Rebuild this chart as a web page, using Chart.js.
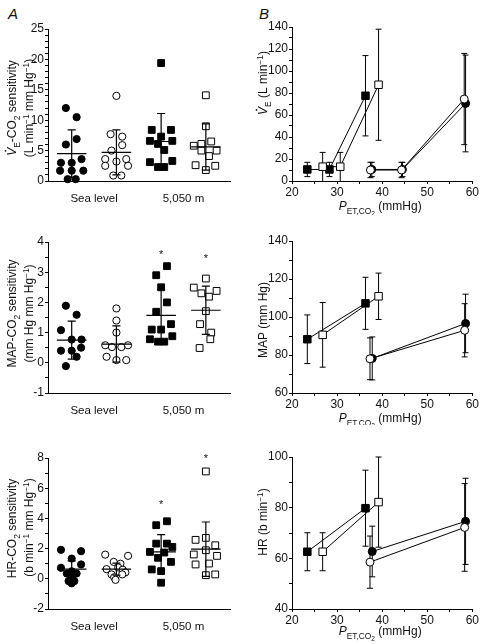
<!DOCTYPE html>
<html lang="en">
<head>
  <meta charset="UTF-8" />
  <title>CO2 sensitivity at sea level and 5,050 m</title>
  <script src="https://cdn.jsdelivr.net/npm/chart.js"></script>
  <style>
    body { margin: 0; background: #fff; overflow: hidden; }
    #fig { position: relative; width: 480px; height: 644px; }
    #fig canvas { position: absolute; }
    .tag { position: absolute; font: italic 15px "Liberation Sans", Arial, sans-serif; line-height: 15px; color: #111; }
  </style>
</head>
<body>
  <div id="fig">
    <div class="tag" style="left:8px;top:6px">A</div>
    <div class="tag" style="left:259px;top:6px">B</div>
    <canvas id="a1"></canvas>
    <canvas id="a2"></canvas>
    <canvas id="a3"></canvas>
    <canvas id="b1"></canvas>
    <canvas id="b2"></canvas>
    <canvas id="b3"></canvas>
  </div>

  <script>
    // ---- A: individual sensitivities. groups: SL filled circles, SL open circles, 5,050 m filled squares, 5,050 m open squares
    const groupLabels = ['Sea level', '5,050 m'];
    const groupCentres = [1.5, 3.5];

    const veSensY = [
      [12.0, 10.5, 6.9, 6.0, 3.0, 3.0, 3.6, 1.7, 1.7, 1.7, 0.3, 0.3],
      [14.0, 7.7, 7.3, 5.9, 5.0, 3.6, 3.2, 3.6, 2.5, 2.5, 0.9, 0.9],
      [19.4, 8.4, 8.4, 7.3, 6.6, 6.6, 6.1, 5.1, 3.1, 3.3, 2.3, 2.3],
      [14.1, 9.0, 5.8, 6.1, 6.5, 5.0, 5.0, 4.1, 2.6, 2.5, 1.8]
    ];
    const veSensJitter = [
      [-0.13, 0.11, 0.11, -0.13, -0.24, 0, 0.22, -0.26, 0, 0.26, -0.09, 0.09],
      [0, -0.13, 0.13, 0.13, -0.11, -0.25, 0, 0.22, -0.25, 0.26, -0.07, 0.11],
      [0, -0.21, 0.22, 0, -0.25, 0.25, -0.07, 0.07, -0.25, 0.25, -0.07, 0.07],
      [0, 0, -0.27, -0.1, 0.12, -0.1, 0.24, 0.07, -0.23, 0.21, 0]
    ];
    const veSensMean = [4.5, 4.7, 6.5, 5.6];
    const veSensSD = [3.9, 3.7, 4.6, 3.8];
    const veSensStars = [null, null, null, null];

    const mapSensY = [
      [1.89, 1.59, 1.08, 0.77, 0.77, 0.40, 0.40, 0.50, 0.20, -0.11],
      [1.8, 1.4, 1.0, 0.58, 0.52, 0.52, 0.58, 0.2, 0.09, 0.09],
      [3.2, 2.9, 2.5, 2.0, 1.69, 1.1, 1.1, 1.28, 0.78, 0.7, 0.7, 0.88],
      [2.79, 2.49, 2.38, 2.3, 2.19, 1.71, 1.28, 1.0, 0.78, 0.49]
    ];
    const mapSensJitter = [
      [-0.13, 0.11, -0.24, 0, 0.22, -0.24, 0, 0.21, 0.11, -0.13],
      [0, 0, 0, -0.25, -0.1, 0.11, 0.26, -0.22, 0, 0.22],
      [0.13, -0.11, 0, 0.13, -0.11, -0.21, 0, 0.22, -0.25, -0.07, 0.07, 0.25],
      [0, -0.27, 0.24, -0.1, 0.07, 0, -0.13, 0.12, 0.1, -0.14]
    ];
    const mapSensMean = [0.75, 0.62, 1.57, 1.74];
    const mapSensSD = [0.63, 0.6, 0.85, 0.8];
    const mapSensStars = [null, null, 3.65, 3.5];

    const hrSensY = [
      [1.92, 1.83, 1.34, 0.73, 0.95, 0.5, 0.35, 0.35, 0.1, -0.15, -0.15, -0.3],
      [1.6, 1.52, 1.12, 1.0, 0.64, 0.75, 0.6, 0.42, 0.29, 0.29, 0.1, -0.07],
      [3.81, 3.55, 2.33, 2.33, 2.11, 1.78, 1.74, 1.39, 1.12, 0.62, 0.51, -0.26],
      [7.11, 2.71, 2.58, 2.22, 1.89, 1.61, 1.52, 0.95, 1.01, 0.24, 0.29]
    ];
    const hrSensJitter = [
      [-0.24, 0.21, 0, -0.24, 0.21, 0, -0.11, 0.11, 0, -0.07, 0.06, 0],
      [-0.25, 0.26, -0.06, 0.09, -0.22, 0.04, 0.14, 0.2, -0.11, 0.13, -0.05, -0.02],
      [0.13, -0.11, -0.11, 0.13, 0.25, -0.25, 0.07, -0.07, 0.22, -0.21, 0, 0],
      [0, 0, -0.23, 0.21, 0, -0.27, 0.25, -0.23, 0.07, 0, 0.21]
    ];
    const hrSensMean = [0.64, 0.64, 1.78, 1.96];
    const hrSensSD = [0.55, 0.4, 1.15, 1.8];
    const hrSensStars = [null, null, 5.0, 8.05];

    // ---- B: responses vs PETCO2. series: filled squares, open squares, filled circles, open circles
    const veX = [[23.4, 28.3, 36.3], [26.8, 30.7, 39.2], [37.7, 44.5, 58.5], [37.4, 44.3, 58.2]];
    const veY = [[10.5, 10.5, 77.5], [13, 13, 87.5], [10.5, 10.5, 70.5], [10, 10, 74.5]];
    const veErr = [[6.5, 6.5, 36.5], [13, 13, 50.5], [6.5, 6.5, 44], [7, 7, 41.5]];

    const mapX = [[23.4, 36.3], [26.8, 39.2], [37.8, 58.5], [37.3, 58.3]];
    const mapY = [[88.3, 107.2], [90.6, 110.9], [78.2, 96.6], [78.0, 93.0]];
    const mapErr = [[12.8, 13.7], [17, 12.2], [11.3, 15.4], [11, 14]];

    const hrX = [[23.4, 36.3], [26.8, 39.2], [37.8, 58.5], [37.3, 58.3]];
    const hrY = [[62.6, 79.8], [62.6, 82.2], [62.7, 74.6], [58.5, 72.2]];
    const hrErr = [[7.5, 15], [7.5, 17.8], [10, 17], [10.3, 17.3]];

    const FONT = '"Liberation Sans", Arial, sans-serif';
    const INK = '#111';

    // canvas box and plot-area edges, page pixels
    const boxes = {
      a1: { left: 0, top: 0, w: 240, h: 215, l: 48, t: 29, r: 230, b: 181 },
      a2: { left: 0, top: 215, w: 240, h: 210, l: 48, t: 242, r: 230, b: 393 },
      a3: { left: 0, top: 425, w: 240, h: 219, l: 48, t: 458, r: 230, b: 609 },
      b1: { left: 240, top: 0, w: 240, h: 215, l: 292, t: 27, r: 473, b: 181 },
      b2: { left: 240, top: 215, w: 240, h: 210, l: 292, t: 241, r: 473, b: 393 },
      b3: { left: 240, top: 425, w: 240, h: 219, l: 292, t: 457, r: 473, b: 609 }
    };

    function partFont(kind, size) {
      let sz = size;
      if (kind === 'sub' || kind === 'sup') sz = size * 0.7;
      if (kind === 'sub2') sz = size * 0.55;
      const it = (kind === 'i' || kind === 'dotV') ? 'italic ' : '';
      return it + sz + 'px ' + FONT;
    }

    // text with sub/superscripts, centred on (cx, cy)
    function drawRich(ctx, parts, cx, cy, size, rotated) {
      ctx.save();
      ctx.translate(cx, cy);
      if (rotated) ctx.rotate(-Math.PI / 2);
      ctx.textAlign = 'left';
      ctx.textBaseline = 'alphabetic';
      ctx.fillStyle = INK;
      let w = 0;
      parts.forEach(p => { ctx.font = partFont(p[1], size); w += ctx.measureText(p[0]).width; });
      let x = -w / 2;
      const base = size * 0.36;
      parts.forEach(p => {
        const kind = p[1];
        ctx.font = partFont(kind, size);
        let dy = 0;
        if (kind === 'sub') dy = size * 0.28;
        if (kind === 'sup') dy = -size * 0.4;
        if (kind === 'sub2') dy = size * 0.5;
        ctx.fillText(p[0], x, base + dy);
        const tw = ctx.measureText(p[0]).width;
        if (kind === 'dotV') {
          ctx.beginPath();
          ctx.arc(x + tw * 0.62, base - size * 0.9, size * 0.075, 0, Math.PI * 2);
          ctx.fill();
        }
        x += tw;
      });
      ctx.restore();
    }

    function titlePlugin(titles) {
      return {
        id: 'titles',
        afterDraw(chart) {
          const a = chart.chartArea;
          titles.forEach(t => {
            if (t.at === 'y') {
              drawRich(chart.ctx, t.parts, a.left + t.dx, (a.top + a.bottom) / 2 + t.dy, 12, true);
            } else {
              drawRich(chart.ctx, t.parts, (a.left + a.right) / 2 + t.dx, a.bottom + t.dy, 12, false);
            }
          });
        }
      };
    }

    // mean line, SD whiskers and asterisks for the scatter panels
    function meanSdPlugin(mean, sd, stars) {
      return {
        id: 'meanSd',
        afterDatasetsDraw(chart) {
          const { ctx } = chart;
          const x = chart.scales.x, y = chart.scales.y;
          ctx.save();
          ctx.strokeStyle = '#000';
          ctx.lineWidth = 1.2;
          mean.forEach((m, i) => {
            const c = i + 1;
            const px = x.getPixelForValue(c);
            const half = x.getPixelForValue(c + 0.33) - px;
            const cap = x.getPixelForValue(c + 0.09) - px;
            const yt = y.getPixelForValue(m + sd[i]);
            const yb = y.getPixelForValue(m - sd[i]);
            const ym = y.getPixelForValue(m);
            ctx.beginPath();
            ctx.moveTo(px - half, ym); ctx.lineTo(px + half, ym);
            ctx.moveTo(px, yt); ctx.lineTo(px, yb);
            ctx.moveTo(px - cap, yt); ctx.lineTo(px + cap, yt);
            ctx.moveTo(px - cap, yb); ctx.lineTo(px + cap, yb);
            ctx.stroke();
            if (stars[i] != null) {
              ctx.fillStyle = INK;
              ctx.font = '11px ' + FONT;
              ctx.textAlign = 'center';
              ctx.textBaseline = 'middle';
              ctx.fillText('*', px, y.getPixelForValue(stars[i]) + 2);
            }
          });
          ctx.restore();
        }
      };
    }

    const errBarPlugin = {
      id: 'errBars',
      beforeDatasetsDraw(chart) {
        const { ctx, chartArea } = chart;
        const y = chart.scales.y;
        ctx.save();
        ctx.strokeStyle = '#000';
        ctx.lineWidth = 1;
        chart.data.datasets.forEach((ds, di) => {
          if (!ds.err) return;
          chart.getDatasetMeta(di).data.forEach((pt, i) => {
            const v = ds.data[i].y;
            const t = Math.max(y.getPixelForValue(v + ds.err[i]), chartArea.top);
            const b = Math.min(y.getPixelForValue(v - ds.err[i]), chartArea.bottom);
            ctx.beginPath();
            ctx.moveTo(pt.x, t); ctx.lineTo(pt.x, b);
            ctx.moveTo(pt.x - 3, t); ctx.lineTo(pt.x + 3, t);
            if (b < chartArea.bottom) { ctx.moveTo(pt.x - 3, b); ctx.lineTo(pt.x + 3, b); }
            ctx.stroke();
          });
        });
        ctx.restore();
      }
    };

    function yAxis(min, max, step, isMajor) {
      return {
        min: min, max: max,
        ticks: {
          stepSize: step, autoSkip: false, padding: 1, color: INK,
          font: { family: FONT, size: 12 },
          callback: v => isMajor(v) ? String(v) : ''
        },
        grid: { display: true, drawOnChartArea: false, tickLength: 3, color: '#000', tickColor: '#000' },
        border: { display: true, color: '#000', width: 1 }
      };
    }

    const groupAxis = {
      min: 0.47, max: 4.54,
      afterBuildTicks: s => { s.ticks = groupCentres.map(v => ({ value: v })); },
      ticks: {
        autoSkip: false, maxRotation: 0, padding: 11, color: INK,
        font: { family: FONT, size: 11.5 },
        callback: (v, i) => groupLabels[i]
      },
      grid: { display: false, drawTicks: false },
      border: { display: true, color: '#000', width: 1 }
    };

    const petAxis = {
      min: 20, max: 60,
      ticks: {
        stepSize: 5, autoSkip: false, maxRotation: 0, padding: 1, color: INK,
        font: { family: FONT, size: 12 },
        callback: v => v % 10 === 0 ? String(v) : ''
      },
      grid: { display: true, drawOnChartArea: false, tickLength: 3, color: '#000', tickColor: '#000' },
      border: { display: true, color: '#000', width: 1 }
    };

    function makeChart(id, datasets, xAxis, yOpts, plugins) {
      const box = boxes[id];
      const cv = document.getElementById(id);
      cv.width = box.w;
      cv.height = box.h;
      cv.style.left = box.left + 'px';
      cv.style.top = box.top + 'px';
      return new Chart(cv, {
        type: 'scatter',
        data: { datasets: datasets },
        options: {
          responsive: false,
          animation: false,
          events: [],
          layout: { padding: { left: 0, top: box.t - box.top, right: box.left + box.w - box.r, bottom: 0 } },
          plugins: { legend: { display: false }, tooltip: { enabled: false } },
          scales: {
            x: Object.assign({ type: 'linear', afterFit: s => { s.height = box.top + box.h - box.b; } }, xAxis),
            y: Object.assign({ type: 'linear', afterFit: s => { s.width = box.l - box.left; } }, yOpts)
          }
        },
        plugins: plugins
      });
    }

    function groupSets(ys, jit) {
      return ys.map((col, c) => ({
        data: col.map((v, i) => ({ x: c + 1 + jit[c][i], y: v })),
        pointStyle: c < 2 ? 'circle' : 'rect',
        pointRadius: c < 2 ? 3.6 : 4.8,
        pointBackgroundColor: c % 2 === 0 ? '#000' : '#fff',
        pointBorderColor: '#000',
        pointBorderWidth: 1,
        showLine: false,
        clip: false
      }));
    }

    function curveSets(xs, ys, errs) {
      const drawOrder = [3, 2, 1, 0];
      return xs.map((xr, s) => ({
        data: xr.map((v, i) => ({ x: v, y: ys[s][i] })),
        err: errs[s],
        order: drawOrder[s],
        showLine: true,
        borderColor: '#000',
        borderWidth: 1,
        pointStyle: s < 2 ? 'rect' : 'circle',
        pointRadius: s < 2 ? 5.3 : 4,
        pointBackgroundColor: s % 2 === 0 ? '#000' : '#fff',
        pointBorderColor: '#000',
        pointBorderWidth: 1,
        clip: false
      }));
    }

    const supM1 = ['\u22121', 'sup'];
    const petTitle = [['P', 'i'], ['ET,CO', 'sub'], ['2', 'sub2'], [' (mmHg)', '']];

    makeChart('a1', groupSets(veSensY, veSensJitter), groupAxis,
      yAxis(0, 25, 1, v => v % 5 === 0), [
        meanSdPlugin(veSensMean, veSensSD, veSensStars),
        titlePlugin([
          { at: 'y', dx: -36, dy: 3, parts: [['V', 'dotV'], ['E', 'sub'], ['-CO', ''], ['2', 'sub'], [' sensitivity', '']] },
          { at: 'y', dx: -19, dy: 3, parts: [['(L min', ''], supM1, [' mm Hg', ''], supM1, [')', '']] }
        ])
      ]);

    makeChart('a2', groupSets(mapSensY, mapSensJitter), groupAxis,
      yAxis(-1, 4, 0.5, v => Math.abs(v - Math.round(v)) < 1e-9), [
        meanSdPlugin(mapSensMean, mapSensSD, mapSensStars),
        titlePlugin([
          { at: 'y', dx: -36, dy: -4, parts: [['MAP-CO', ''], ['2', 'sub'], [' sensitivity', '']] },
          { at: 'y', dx: -19, dy: -4, parts: [['(mm Hg mm Hg', ''], supM1, [')', '']] }
        ])
      ]);

    makeChart('a3', groupSets(hrSensY, hrSensJitter), groupAxis,
      yAxis(-2, 8, 1, v => v % 2 === 0), [
        meanSdPlugin(hrSensMean, hrSensSD, hrSensStars),
        titlePlugin([
          { at: 'y', dx: -36, dy: -5, parts: [['HR-CO', ''], ['2', 'sub'], [' sensitivity', '']] },
          { at: 'y', dx: -19, dy: -6, parts: [['(b min', ''], supM1, [' mm Hg', ''], supM1, [')', '']] }
        ])
      ]);

    makeChart('b1', curveSets(veX, veY, veErr), petAxis,
      yAxis(0, 140, 10, v => v % 20 === 0), [
        errBarPlugin,
        titlePlugin([
          { at: 'y', dx: -29, dy: -21, parts: [['V', 'dotV'], ['E', 'sub'], [' (L min', ''], supM1, [')', '']] },
          { at: 'x', dx: -2, dy: 25, parts: petTitle }
        ])
      ]);

    makeChart('b2', curveSets(mapX, mapY, mapErr), petAxis,
      yAxis(60, 140, 10, v => v % 20 === 0), [
        errBarPlugin,
        titlePlugin([
          { at: 'y', dx: -29, dy: 3, parts: [['MAP (mm Hg)', '']] },
          { at: 'x', dx: -2, dy: 25, parts: petTitle }
        ])
      ]);

    makeChart('b3', curveSets(hrX, hrY, hrErr), petAxis,
      yAxis(40, 100, 10, v => v % 20 === 0), [
        errBarPlugin,
        titlePlugin([
          { at: 'y', dx: -29, dy: -11, parts: [['HR (b min', ''], supM1, [')', '']] },
          { at: 'x', dx: -2, dy: 22, parts: petTitle }
        ])
      ]);
  </script>
</body>
</html>
